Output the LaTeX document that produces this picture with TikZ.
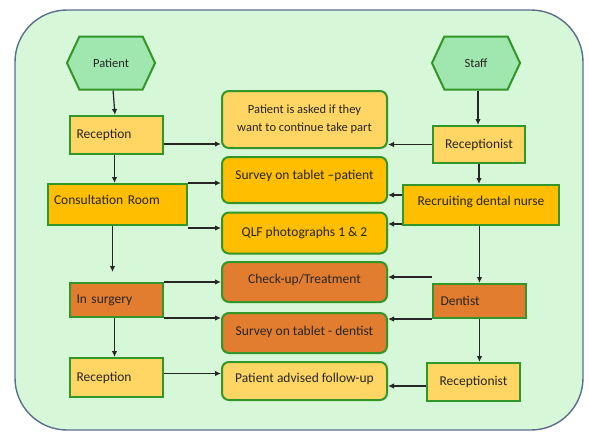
\documentclass[tikz,border=0pt]{standalone}
\usepackage{fontspec}
\setmainfont{Carlito}
\usetikzlibrary{shapes.symbols,arrows.meta}
\definecolor{bgfill}{RGB}{214,247,216}
\definecolor{bgline}{RGB}{90,110,140}
\definecolor{hexfill}{RGB}{160,230,175}
\definecolor{gline}{RGB}{50,150,40}
\definecolor{lightbox}{RGB}{255,214,100}
\definecolor{midbox}{RGB}{255,190,0}
\definecolor{darkbox}{RGB}{226,125,48}
\tikzset{
  x=1pt,y=-1pt,
  every node/.style={font=\fontsize{13.5}{16}\selectfont, text=black!85, inner sep=0pt},
  hexa/.style={shape=signal, signal to=east and west, signal pointer angle=130,
    draw=gline, line width=2pt, fill=hexfill, minimum width=88, minimum height=53,
    font=\fontsize{12.5}{14}\selectfont},
  sidebox/.style={draw=gline, line width=2pt},
  midbox/.style={draw=gline, line width=2pt, rounded corners=7pt,
    minimum width=165, align=center},
  arr/.style={-{Latex[length=6pt,width=5.5pt]}, line width=1.2pt, black!85},
}
\begin{document}
\begin{tikzpicture}
\useasboundingbox (0,0) rectangle (589,434);
\draw[bgline, line width=1.4pt, fill=bgfill, rounded corners=52pt] (15,10) rectangle (583,430);

% left column
\node[hexa] (pat) at (111,63) {Patient};
\node[sidebox, fill=lightbox, minimum width=93, minimum height=38, text width=80, align=left] (rec1) at (116.5,135) {Reception};
\node[sidebox, fill=midbox, minimum width=139, minimum height=41, text width=127, align=left, text depth=9pt] (cons) at (117.5,204.5) {Consultation Room};
\node[sidebox, fill=darkbox, minimum width=93, minimum height=34, text width=80, align=left] (surg) at (116.5,300) {In surgery};
\node[sidebox, fill=lightbox, minimum width=93, minimum height=39, text width=80, align=left] (rec2) at (116.5,377.5) {Reception};

% right column
\node[hexa] (staff) at (476,63) {Staff};
\node[sidebox, fill=lightbox, minimum width=92, minimum height=37] (rcp1) at (479,144.5) {Receptionist};
\node[sidebox, fill=midbox, minimum width=156, minimum height=40, text depth=8pt] (nurse) at (481,205) {Recruiting dental nurse};
\node[sidebox, fill=darkbox, minimum width=93, minimum height=34, text width=78, align=left] (dent) at (479.5,301) {Dentist};
\node[sidebox, fill=lightbox, minimum width=93, minimum height=38] (rcp2) at (473.5,382) {Receptionist};

% middle column
\node[midbox, fill=lightbox, minimum height=57, font=\fontsize{12.5}{18}\selectfont] (m1) at (304.5,119.5) {Patient is asked if they\\want to continue take part};
\node[midbox, fill=midbox, minimum height=46, text depth=11pt] (m2) at (304.5,180) {Survey on tablet --patient};
\node[midbox, fill=midbox, minimum height=41] (m3) at (304.5,233) {QLF photographs 1 \& 2};
\node[midbox, fill=darkbox, minimum height=40, text depth=6pt] (m4) at (304.5,282) {Check-up/Treatment};
\node[midbox, fill=darkbox, minimum height=40, text depth=4pt] (m5) at (304.5,333) {Survey on tablet - dentist};
\node[midbox, fill=lightbox, minimum height=38, text depth=6pt] (m6) at (304.5,381) {Patient advised follow-up};

% left arrows
\draw[arr] (pat) -- (rec1);
\draw[arr] ([xshift=-2pt]rec1.south) -- ([xshift=-2pt]rec1.south |- cons.north);
\draw[arr] ([yshift=-9pt]rec1.east) -- ([yshift=-9pt]rec1.east -| m1.west);
\draw[arr] (cons.north east) -- (cons.north east -| m2.west);
\draw[arr] ([yshift=-2pt]cons.south east) -- ([yshift=-2pt]cons.south east -| m3.west);
\draw[arr, shorten >=10pt] ([xshift=-5pt]cons.south) -- ([xshift=-5pt]cons.south |- surg.north);
\draw[arr] (surg.north east) -- (surg.north east -| m4.west);
\draw[arr] (surg.south east) -- (surg.south east -| m5.west);
\draw[arr] ([xshift=-2pt]surg.south) -- ([xshift=-2pt]surg.south |- rec2.north);
\draw[arr] ([yshift=4pt]rec2.east) -- ([yshift=4pt]rec2.east -| m6.west);

% right arrows
\draw[arr] ([xshift=2pt]staff.south) -- ([xshift=2pt]staff.south |- rcp1.north);
\draw[arr] (rcp1.west) -- (rcp1.west -| m1.east);
\draw[arr] (rcp1.south) -- (rcp1.south |- nurse.north);
\draw[arr] ([yshift=-11pt]nurse.north west) -- ([yshift=-11pt]nurse.north west -| m2.east);
\draw[arr] ([yshift=2pt]nurse.south west) -- ([yshift=2pt]nurse.south west -| m3.east);
\draw[arr] ([xshift=-1.5pt]nurse.south) -- ([xshift=-1.5pt]nurse.south |- dent.north);
\draw[arr] ([yshift=6pt]dent.north west) -- ([yshift=6pt]dent.north west -| m4.east);
\draw[arr] (dent.south west) -- (dent.south west -| m5.east);
\draw[arr] (dent.south) -- (dent.south |- rcp2.north);
\draw[arr] ([yshift=-4pt]rcp2.west) -- ([yshift=-4pt]rcp2.west -| m6.east);
\end{tikzpicture}
\end{document}
